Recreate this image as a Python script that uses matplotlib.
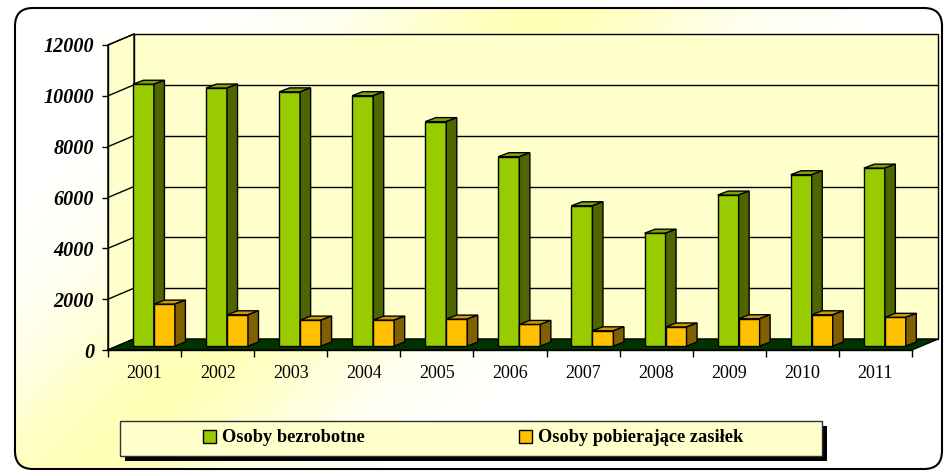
import numpy as np
import matplotlib.pyplot as plt
from matplotlib.patches import Polygon, Rectangle, FancyBboxPatch, Patch

# Dane
lata = ['2001', '2002', '2003', '2004', '2005', '2006', '2007', '2008', '2009', '2010', '2011']
bezrobotni = [10300, 10150, 10000, 9850, 8830, 7450, 5520, 4440, 5940, 6740, 7000]
zasilek = [1650, 1230, 1020, 1020, 1060, 850, 600, 750, 1075, 1230, 1130]
y_ticks = [0, 2000, 4000, 6000, 8000, 10000, 12000]
etykiety = ['Osoby bezrobotne', 'Osoby pobierające zasiłek']

W, H = 944, 471
fig = plt.figure(figsize=(W / 100, H / 100), dpi=100)

# Tło z żółtą poświatą i zaokrągloną ramką
bg = fig.add_axes([0, 0, 1, 1])
bg.set_xlim(0, W)
bg.set_ylim(H, 0)
bg.axis('off')
yy, xx = np.mgrid[0:H, 0:W]
lx, ly = 475.0, -463.0
dist = np.abs((xx - 80) * ly - (yy - 471) * lx) / np.hypot(lx, ly)
t = np.exp(-(dist / 120.0) ** 2)
img = np.ones((H, W, 3))
img[..., 2] = 1 - 0.28 * t
ramka = FancyBboxPatch((15, 8), 927, 461, boxstyle='round,pad=0,rounding_size=18',
                       fill=False, ec='black', lw=1.5, zorder=3)
bg.add_patch(ramka)
im = bg.imshow(img, extent=(0, W, H, 0), aspect='auto', zorder=0)
im.set_clip_path(ramka)

# Pudełko legendy z cieniem
bg.add_patch(Rectangle((125, 426), 702, 35, fc='black', ec='none', zorder=2))
bg.add_patch(Rectangle((120, 421), 702, 35, fc='#FFFFCC', ec='#333333', lw=1, zorder=2))

# Wykres "3D"
n = len(lata)
ax = fig.add_axes([108 / W, 1 - 350 / H, 804 / W, 305 / H])
x0, x1 = -0.5, n - 0.5
ymax = y_ticks[-1]
ax.set_xlim(x0, x1)
ax.set_ylim(0, ymax)
ax.patch.set_visible(False)

DX = 26 / (804 / n)
DY = 11 / (305 / ymax)

ax.add_patch(Polygon([(x0 + DX, DY), (x1 + DX, DY), (x1 + DX, ymax + DY), (x0 + DX, ymax + DY)],
                     fc='#FFFFCC', ec='black', lw=1, clip_on=False, zorder=1))
ax.add_patch(Polygon([(x0, 0), (x0 + DX, DY), (x0 + DX, ymax + DY), (x0, ymax)],
                     fc='#FFFFCC', ec='black', lw=1, clip_on=False, zorder=1))
for v in y_ticks[1:-1]:
    ax.plot([x0 + DX, x1 + DX], [v + DY, v + DY], color='black', lw=1, clip_on=False, zorder=2)
for v in y_ticks:
    ax.plot([x0, x0 + DX], [v, v + DY], color='black', lw=1, clip_on=False, zorder=2)
ax.add_patch(Polygon([(x0, 0), (x1, 0), (x1 + DX, DY), (x0 + DX, DY)],
                     fc='#003300', ec='black', lw=1, clip_on=False, zorder=3))

w = 0.287
ox, oy = 0.36 * DX, 0.36 * DY
bdx, bdy = 0.144, 157
serie = [
    (bezrobotni, -w, '#99CC00', '#7FA300', '#4F6600', 4),
    (zasilek, 0.0, '#FFC000', '#CC9A00', '#806000', 5),
]
x = np.arange(n)
for wart, off, c_front, c_top, c_side, z in serie:
    ax.bar(x + off + ox, wart, width=w, bottom=oy, align='edge', color=c_front,
           edgecolor='black', lw=1, zorder=z, clip_on=False)
    for i, v in enumerate(wart):
        xl = i + off + ox
        xr = xl + w
        yt = oy + v
        ax.add_patch(Polygon([(xl, yt), (xr, yt), (xr + bdx, yt + bdy), (xl + bdx, yt + bdy)],
                             fc=c_top, ec='black', lw=1, clip_on=False, zorder=z))
        ax.add_patch(Polygon([(xr, oy), (xr + bdx, oy + bdy), (xr + bdx, yt + bdy), (xr, yt)],
                             fc=c_side, ec='black', lw=1, clip_on=False, zorder=z))

# Osie
for s in ['top', 'right']:
    ax.spines[s].set_visible(False)
ax.spines['left'].set_linewidth(1)
ax.spines['bottom'].set_linewidth(1)
ax.set_yticks(y_ticks)
ax.set_yticklabels([str(v) for v in y_ticks], fontfamily='Liberation Serif',
                   fontweight='bold', fontstyle='italic', fontsize=14.5)
ax.tick_params(axis='y', length=4, width=1, pad=6, direction='out')
ax.set_xticks(x)
ax.set_xticklabels(lata, fontfamily='Liberation Serif', fontsize=13)
ax.set_xticks(np.arange(n + 1) - 0.5, minor=True)
ax.tick_params(axis='x', which='major', length=0, pad=11)
ax.tick_params(axis='x', which='minor', length=5, width=1, direction='out')

# Legenda
uchwyty = [Patch(fc='#99CC00', ec='black', lw=1), Patch(fc='#FFC000', ec='black', lw=1)]
fig.legend(uchwyty, etykiety, loc='center', bbox_to_anchor=(473 / W, 1 - 438 / H), ncol=2,
           frameon=False, columnspacing=8.4, handlelength=0.7, handleheight=0.7,
           handletextpad=0.35, prop={'family': 'Liberation Serif', 'weight': 'bold', 'size': 13.2})

fig.savefig('out.png', dpi=100)
